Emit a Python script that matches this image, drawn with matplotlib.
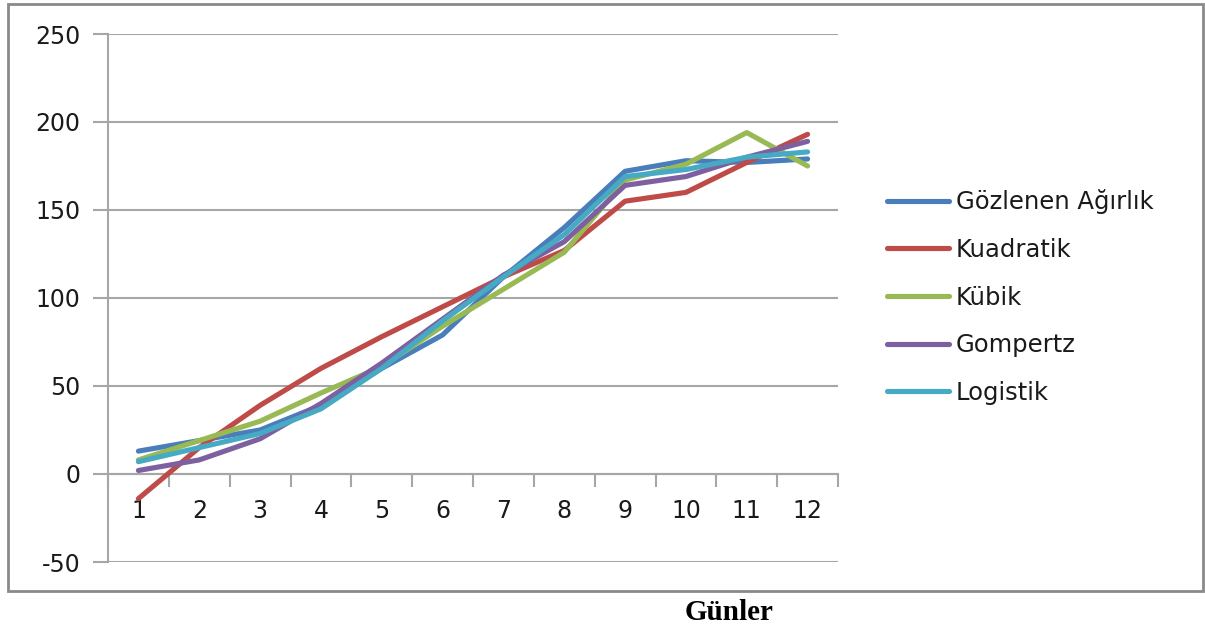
import matplotlib
matplotlib.use("Agg")
import matplotlib.pyplot as plt
import matplotlib.patches as mpatches
import numpy as np

plt.rcParams["axes.unicode_minus"] = False

# ── Data ──────────────────────────────────────────────────────────────────────
gunler = list(range(1, 13))
gozlenen  = [13, 19, 25, 39, 60, 79, 112, 140, 172, 178, 177, 179]
kuadratik = [-14, 15, 39, 60, 78, 95, 112, 127, 155, 160, 177, 193]
kubik     = [8, 19, 30, 46, 61, 84, 105, 126, 167, 176, 194, 175]
gompertz  = [2, 8, 20, 40, 63, 88, 113, 132, 164, 169, 180, 189]
logistik  = [7, 15, 23, 37, 60, 87, 112, 136, 169, 173, 180, 183]

series = [
    ("Gözlenen Ağırlık", gozlenen,  "#4A7EBB"),
    ("Kuadratik",        kuadratik, "#BE4B48"),
    ("Kübik",            kubik,     "#98B954"),
    ("Gompertz",         gompertz,  "#7D60A0"),
    ("Logistik",         logistik,  "#46AAC5"),
]

GRID = "#A6A6A6"
TXT = "#1a1a1a"
W, H = 1205, 632

fig = plt.figure(figsize=(W / 100, H / 100), dpi=100)
fig.patch.set_facecolor("white")
ax = fig.add_axes([108 / W, 1 - 562 / H, (838 - 108) / W, (562 - 34) / H])

for name, vals, col in series:
    ax.plot(gunler, vals, color=col, lw=3.7, label=name,
            solid_capstyle="round", solid_joinstyle="round", zorder=3)

ax.set_xlim(0.5, 12.5)
ax.set_ylim(-50, 250)
ax.set_yticks(np.arange(-50, 251, 50))
ax.grid(axis="y", color=GRID, lw=1.5, zorder=0)

for s in ("top", "right"):
    ax.spines[s].set_visible(False)
ax.spines["left"].set_color(GRID)
ax.spines["left"].set_linewidth(1.5)
ax.spines["bottom"].set_position(("data", 0))
ax.spines["bottom"].set_color(GRID)
ax.spines["bottom"].set_linewidth(1.5)

ax.set_xticks(gunler)
ax.set_xticks(np.arange(0.5, 12.6, 1), minor=True)
ax.tick_params(axis="x", which="major", length=0, pad=18, labelsize=17, labelcolor=TXT)
ax.tick_params(axis="x", which="minor", length=9, width=1.5, color=GRID, direction="out")
ax.tick_params(axis="y", length=11, width=1.5, color=GRID, pad=9, labelsize=17,
               labelcolor=TXT)

fig.legend(loc="center left", bbox_to_anchor=(887 / W, 1 - 297 / H),
           frameon=False, fontsize=17.5, handlelength=2.55, handletextpad=0.28,
           labelspacing=0.97, borderpad=0, borderaxespad=0, labelcolor=TXT)

# outer chart border
fig.patches.append(mpatches.Rectangle((8 / W, 1 - 591 / H), (1203 - 8) / W, (591 - 4) / H,
                                      transform=fig.transFigure, fill=False,
                                      edgecolor="#8A8A8A", lw=2))

fig.text(729 / W, 1 - 612 / H, "Günler", ha="center", va="center",
         fontsize=21, fontweight="bold", family="Liberation Serif")

fig.savefig("out.png", dpi=100, facecolor="white")
